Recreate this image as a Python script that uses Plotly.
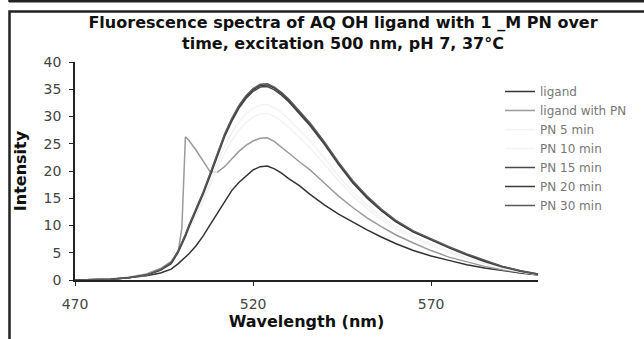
import plotly.graph_objects as go

# ---------------- data ----------------
wavelength = [470, 475, 480, 485, 490, 494, 497, 499, 500, 501, 502, 504, 506, 508, 510,
              512, 514, 516, 518, 520, 522, 524, 526, 528, 530, 533, 536, 540, 544, 548,
              552, 556, 560, 565, 570, 575, 580, 585, 590, 595, 600]

ligand = [0, 0.05, 0.15, 0.4, 0.8, 1.3, 2.0, 3.0, 3.6, 4.2, 4.8, 6.3, 8.1, 10.2, 12.3,
          14.5, 16.4, 17.9, 19.1, 20.2, 20.8, 20.9, 20.4, 19.6, 18.6, 17.3, 15.7, 13.8, 12.1, 10.6,
          9.2, 7.9, 6.7, 5.4, 4.4, 3.6, 2.8, 2.2, 1.7, 1.3, 0.9]

ligand_with_pn = [0, 0.05, 0.2, 0.5, 1.1, 2.1, 3.4, 5.3, 9.5, 26.3, 25.6, 23.8, 21.8, 19.8, 19.8,
                  20.8, 22.2, 23.6, 24.7, 25.5, 26.0, 26.1, 25.4, 24.4, 23.3, 21.7, 20.2, 17.8, 15.4, 13.3,
                  11.4, 9.8, 8.3, 6.8, 5.4, 4.2, 3.3, 2.5, 1.9, 1.4, 1.0]

pn_5 = [0, 0.05, 0.15, 0.4, 0.9, 1.8, 3.1, 5.2, 6.4, 7.8, 9.3, 11.8, 14.5, 17.5, 20.4,
        23.3, 25.6, 27.5, 28.9, 29.9, 30.5, 30.6, 30.0, 29.1, 28.0, 26.1, 24.2, 21.3, 18.2, 15.5,
        13.1, 11.1, 9.4, 7.7, 6.3, 5.0, 3.9, 3.0, 2.1, 1.5, 1.0]

pn_10 = [0, 0.05, 0.15, 0.4, 0.9, 1.8, 3.1, 5.2, 6.5, 8.0, 9.6, 12.2, 15.1, 18.3, 21.5,
         24.5, 27.0, 29.0, 30.5, 31.5, 32.1, 32.2, 31.6, 30.7, 29.5, 27.5, 25.5, 22.4, 19.1, 16.2,
         13.7, 11.6, 9.8, 8.0, 6.6, 5.3, 4.1, 3.1, 2.2, 1.5, 1.0]

pn_15 = [0, 0.05, 0.15, 0.4, 0.9, 1.8, 3.0, 5.1, 6.4, 8.0, 9.7, 12.6, 15.8, 19.2, 22.9,
         26.3, 29.1, 31.5, 33.3, 34.6, 35.4, 35.5, 34.9, 33.9, 32.7, 30.5, 28.3, 24.9, 21.2, 17.8,
         15.0, 12.7, 10.7, 8.8, 7.3, 5.9, 4.6, 3.4, 2.4, 1.6, 1.0]

pn_20 = [0, 0.05, 0.15, 0.4, 0.9, 1.8, 3.1, 5.3, 6.6, 8.2, 9.9, 12.8, 16.0, 19.5, 23.2,
         26.6, 29.4, 31.8, 33.6, 34.9, 35.7, 35.8, 35.2, 34.2, 33.0, 30.8, 28.6, 25.2, 21.4, 18.0,
         15.2, 12.8, 10.8, 8.9, 7.4, 6.0, 4.7, 3.5, 2.5, 1.7, 1.1]

pn_30 = [0, 0.05, 0.15, 0.4, 0.9, 1.9, 3.2, 5.4, 6.8, 8.4, 10.1, 13.0, 16.2, 19.7, 23.4,
         26.8, 29.6, 32.0, 33.8, 35.1, 35.9, 36.0, 35.4, 34.4, 33.2, 31.0, 28.8, 25.4, 21.6, 18.2,
         15.4, 13.0, 11.0, 9.0, 7.5, 6.1, 4.8, 3.6, 2.5, 1.7, 1.1]

series_names = ["ligand", "ligand with PN", "PN 5 min", "PN 10 min",
                "PN 15 min", "PN 20 min", "PN 30 min"]
series_values = [ligand, ligand_with_pn, pn_5, pn_10, pn_15, pn_20, pn_30]
series_colors = ["#333333", "#9a9a9a", "#f3f3f3", "#f3f3f3", "#4a4a4a", "#3a3a3a", "#5a5a5a"]

x_ticks = [470, 520, 570]
y_ticks = [0, 5, 10, 15, 20, 25, 30, 35, 40]

# ---------------- layout geometry ----------------
W, H = 644, 339
L, R, T, B = 75, 106, 62, 59
PW, PH = W - L - R, H - T - B


def px(x):
    return (x - L) / PW


def py(y):
    return (H - B - y) / PH


FONT = "DejaVu Sans"

fig = go.Figure()
for name, vals, col in zip(series_names, series_values, series_colors):
    fig.add_trace(go.Scatter(x=wavelength, y=vals, mode="lines", name=name,
                             line=dict(color=col, width=1.5)))

fig.update_layout(
    width=W, height=H,
    margin=dict(l=L, r=R, t=T, b=B, autoexpand=False),
    paper_bgcolor="white", plot_bgcolor="white",
    font=dict(family=FONT, color="#333333"),
    title=dict(
        text="Fluorescence spectra of AQ OH ligand with 1 _M PN over<br>time, excitation 500 nm, pH 7, 37°C",
        x=343 / W, xanchor="center", xref="container",
        y=1 - 28 / H, yanchor="top", yref="container",
        font=dict(family=FONT, size=16, color="#111111", weight="bold"),
    ),
    xaxis=dict(
        range=[470, 600], tickvals=x_ticks, ticktext=[str(v) for v in x_ticks],
        showline=True, linecolor="#222222", linewidth=1.5,
        ticks="outside", ticklen=4, tickcolor="#222222", tickwidth=1,
        showgrid=False, zeroline=False, ticklabelstandoff=6,
        tickfont=dict(family=FONT, size=14, color="#444444"),
        title=dict(text="Wavelength (nm)", standoff=5,
                   font=dict(family=FONT, size=16, color="#111111", weight="bold")),
    ),
    yaxis=dict(
        range=[0, 40], tickvals=y_ticks,
        showline=True, linecolor="#222222", linewidth=1.5,
        ticks="outside", ticklen=4, tickcolor="#222222", tickwidth=1,
        showgrid=False, zeroline=False, ticklabelstandoff=5,
        tickfont=dict(family=FONT, size=14, color="#444444"),
        title=dict(text="Intensity", standoff=13,
                   font=dict(family=FONT, size=16, color="#111111", weight="bold")),
    ),
    legend=dict(
        x=px(500), xanchor="left", y=py(77), yanchor="top",
        bgcolor="rgba(0,0,0,0)", borderwidth=0,
        font=dict(family=FONT, size=12, color="#777777"),
        tracegroupgap=0,
    ),
    showlegend=True,
    shapes=[
        dict(type="line", xref="paper", yref="paper",
             x0=px(9), x1=px(660), y0=py(1.2), y1=py(1.2),
             line=dict(color="#222222", width=2.5)),
        dict(type="line", xref="paper", yref="paper",
             x0=px(9.5), x1=px(9.5), y0=py(-5), y1=py(2),
             line=dict(color="#222222", width=2.5)),
        dict(type="rect", xref="paper", yref="paper",
             x0=px(9.5), x1=px(700), y0=py(11.5), y1=py(400),
             line=dict(color="#222222", width=2.5), fillcolor="rgba(0,0,0,0)"),
    ],
)

fig.write_html("out.html")
